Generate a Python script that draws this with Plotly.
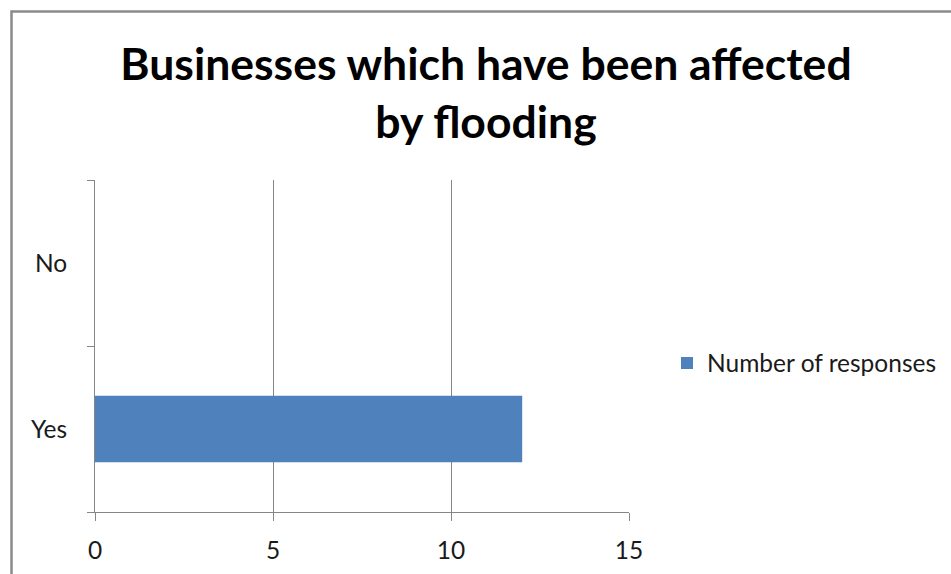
import plotly.graph_objects as go

# Survey answers and the number of businesses giving each one
categories = ["Yes", "No"]
responses = [12, 0]
series_name = "Number of responses"
title_text = "Businesses which have been affected<br>by flooding"
x_ticks = [0, 5, 10, 15]

FONT = "Lato"
GRID = "#868686"
BAR = "#4F81BD"
TEXT = "#1a1a1a"

fig = go.Figure()
fig.add_trace(go.Bar(
    x=responses,
    y=categories,
    orientation="h",
    name=series_name,
    marker=dict(color=BAR, line=dict(width=0)),
    width=0.4,
    showlegend=True,
))

W, H = 951, 574
L, R, T, B = 95, 322, 180, 62
pw, ph = W - L - R, H - T - B

fig.update_layout(
    width=W,
    height=H,
    margin=dict(l=L, r=R, t=T, b=B, autoexpand=False),
    paper_bgcolor="white",
    plot_bgcolor="white",
    font=dict(family=FONT, size=24, color=TEXT),
    title=dict(
        text=title_text,
        x=486 / W,
        xanchor="center",
        y=1 - 80 / H,
        yanchor="top",
        font=dict(family=FONT, size=44.5, color="black", weight="bold"),
    ),
    showlegend=True,
    legend=dict(
        x=(667 - L) / pw,
        xanchor="left",
        y=(T + ph - 363) / ph,
        yanchor="middle",
        font=dict(family=FONT, size=24.5, color=TEXT),
        itemwidth=30,
        bgcolor="rgba(0,0,0,0)",
    ),
    xaxis=dict(
        range=[0, 15],
        tickvals=x_ticks,
        showgrid=True,
        gridcolor=GRID,
        gridwidth=1,
        zeroline=False,
        showline=True,
        linecolor=GRID,
        linewidth=1,
        ticks="outside",
        ticklen=8,
        tickcolor=GRID,
        ticklabelstandoff=9,
        tickfont=dict(family=FONT, size=24.5, color=TEXT),
        fixedrange=True,
    ),
    yaxis=dict(
        type="category",
        categoryorder="array",
        categoryarray=categories,
        range=[-0.5, 1.5],
        tickson="boundaries",
        showgrid=False,
        zeroline=False,
        showline=True,
        linecolor=GRID,
        linewidth=1,
        ticks="outside",
        ticklen=7,
        tickcolor=GRID,
        ticklabelstandoff=22,
        tickfont=dict(family=FONT, size=24.5, color=TEXT),
        fixedrange=True,
    ),
    bargap=0.6,
)

# Chart-area frame, running past the right and bottom edges of the page
fig.add_shape(
    type="rect",
    xref="paper", yref="paper",
    x0=(11.5 - L) / pw, x1=(W + 10 - L) / pw,
    y0=-(H + 10 - (T + ph)) / ph, y1=(T + ph - 11.5) / ph,
    line=dict(color="#8a8a8a", width=2.5),
    fillcolor="rgba(0,0,0,0)",
    layer="below",
)

fig.write_html("out.html")
